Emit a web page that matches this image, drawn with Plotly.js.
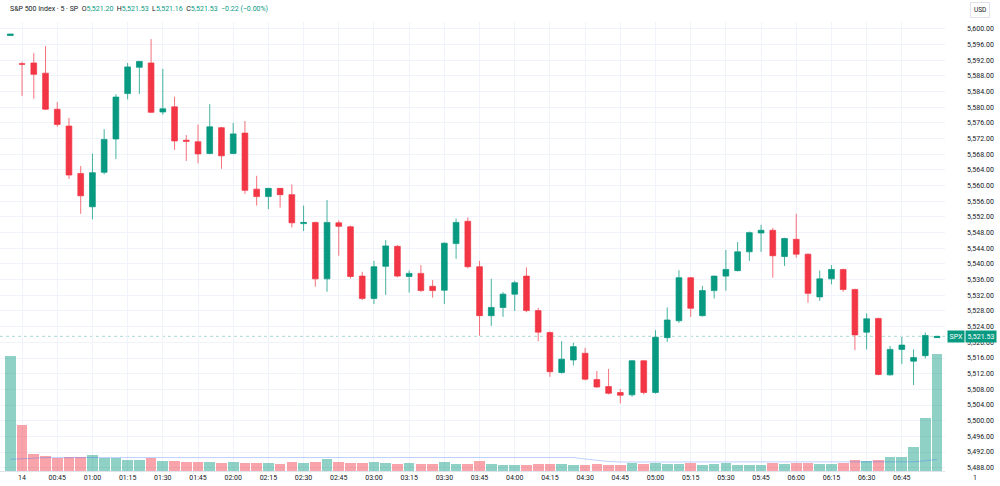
<!DOCTYPE html>
<html>
<head>
<meta charset="utf-8">
<script src="https://cdn.plot.ly/plotly-3.0.1.min.js"></script>
<style>
  html, body { margin: 0; padding: 0; background: #ffffff; }
  #chart { width: 1000px; height: 486px; }
</style>
</head>
<body>
<div id="chart"></div>
<script>
// ---- Data (5-minute bars, S&P 500 Index) ----
const day = "2025-03-14";
const times = ["00:25","00:30","00:35","00:40","00:45","00:50","00:55",
  "01:00","01:05","01:10","01:15","01:20","01:25","01:30","01:35","01:40","01:45","01:50","01:55",
  "02:00","02:05","02:10","02:15","02:20","02:25","02:30","02:35","02:40","02:45","02:50","02:55",
  "03:00","03:05","03:10","03:15","03:20","03:25","03:30","03:35","03:40","03:45","03:50","03:55",
  "04:00","04:05","04:10","04:15","04:20","04:25","04:30","04:35","04:40","04:45","04:50","04:55",
  "05:00","05:05","05:10","05:15","05:20","05:25","05:30","05:35","05:40","05:45","05:50","05:55",
  "06:00","06:05","06:10","06:15","06:20","06:25","06:30","06:35","06:40","06:45","06:50","06:55",
  "07:00"];

const opens = [5598.3,5591.1,5591.3,5588.7,5579.5,5575.2,5563.1,5554.6,5563.4,5571.9,
  5583.5,5590.2,5591.3,5578.8,5580.1,5571.6,5571.2,5568.2,5574.8,5568.2,
  5573.4,5559.1,5557.2,5559.3,5557.7,5550.3,5550.6,5536.2,5550.5,5549.5,
  5536.9,5531.2,5539.4,5544.5,5536.8,5537.6,5534.3,5533.3,5545.2,5550.9,
  5539.3,5526.8,5528.9,5532.3,5536.9,5528.1,5522.5,5512.3,5515.5,5517.2,
  5510.5,5508.7,5507.2,5506.6,5515.3,5507.2,5521.2,5525.5,5536.5,5526.8,
  5533.2,5536.9,5538.3,5543.1,5547.9,5548.6,5541.9,5546.3,5542.5,5531.6,
  5536.2,5538.6,5533.5,5522.6,5526.1,5511.7,5518.2,5515.2,5516.6,5521.20];
const highs = [5598.7,5591.6,5593.8,5595.6,5581.3,5577.3,5565.0,5568.2,5574.4,5583.3,
  5591.3,5591.8,5597.4,5589.8,5582.7,5572.9,5575.6,5580.8,5575.0,5576.0,
  5576.5,5562.5,5559.4,5559.4,5560.3,5554.9,5550.8,5556.3,5551.1,5549.8,
  5538.0,5540.8,5546.1,5544.8,5538.3,5539.7,5535.9,5545.5,5551.6,5551.9,
  5540.8,5536.2,5532.8,5535.7,5539.1,5528.8,5522.8,5520.3,5519.9,5518.6,
  5512.7,5513.2,5508.1,5515.5,5515.4,5523.1,5528.9,5538.4,5536.7,5534.4,
  5537.0,5543.6,5545.6,5548.3,5550.0,5549.2,5546.7,5552.8,5542.7,5538.3,
  5539.7,5538.8,5533.7,5527.4,5526.3,5519.1,5521.4,5518.2,5522.5,5521.53];
const lows = [5598.3,5582.9,5582.2,5579.3,5575.0,5561.7,5552.8,5551.4,5562.9,5566.8,
  5582.0,5583.4,5578.5,5578.1,5569.1,5566.3,5565.7,5568.0,5564.3,5568.0,
  5557.9,5554.9,5554.0,5554.4,5549.3,5548.4,5534.2,5532.9,5542.1,5536.3,
  5530.8,5529.8,5532.1,5536.6,5532.7,5532.9,5531.4,5529.8,5541.3,5538.9,
  5521.7,5524.2,5526.5,5528.0,5527.7,5520.3,5511.2,5512.0,5514.1,5510.3,
  5508.4,5506.7,5504.4,5506.1,5506.7,5506.9,5520.1,5525.0,5526.5,5526.6,
  5531.2,5533.2,5538.1,5540.8,5543.1,5536.5,5539.5,5541.6,5530.1,5530.6,
  5534.8,5532.9,5518.0,5518.2,5511.6,5511.5,5514.5,5509.1,5515.9,5521.16];
const closes = [5598.7,5591.0,5588.4,5579.5,5575.6,5562.7,5557.4,5563.3,5571.8,5582.6,
  5590.3,5591.7,5578.7,5579.6,5571.4,5571.3,5568.1,5575.0,5567.6,5573.2,
  5558.8,5557.2,5559.3,5557.7,5550.5,5550.6,5536.2,5550.6,5549.6,5536.8,
  5531.2,5539.3,5544.6,5536.9,5537.6,5533.2,5533.2,5545.3,5550.6,5539.3,
  5526.8,5528.9,5532.3,5535.2,5528.1,5522.6,5512.5,5515.7,5518.9,5510.6,
  5508.6,5507.0,5506.5,5515.3,5507.2,5521.3,5525.7,5536.5,5528.7,5533.2,
  5536.9,5538.6,5543.1,5548.0,5548.6,5542.1,5546.5,5542.5,5532.5,5536.2,
  5538.6,5533.5,5521.9,5526.0,5511.8,5518.2,5519.3,5516.1,5521.75,5521.53];
const volumes = [115.0,45.7,17.4,15.4,13.0,14.4,13.7,15.7,13.0,12.7,
  11.0,11.0,13.4,10.0,9.7,9.0,8.7,9.0,8.0,8.7,
  7.7,7.7,7.7,7.0,8.7,7.7,9.4,12.0,9.0,8.4,
  8.0,9.4,8.0,7.0,7.7,7.0,7.0,8.7,7.0,7.0,
  10.4,7.5,5.7,6.4,5.7,6.7,7.4,6.7,6.0,6.4,
  7.0,6.4,6.4,8.0,6.7,8.0,6.7,7.4,7.7,6.0,
  6.7,7.7,6.0,6.0,6.0,8.0,7.4,8.4,7.7,7.4,
  7.0,8.0,11.0,10.4,11.0,13.7,13.7,24.0,53.0,117.0];
const volumeMA = [11.7,12.5,13.0,13.4,13.4,13.4,13.4,13.4,13.4,13.4,
  13.4,13.4,13.4,13.4,13.4,13.4,13.4,13.4,13.4,13.4,
  13.5,13.5,13.6,13.6,13.6,13.7,13.7,13.7,13.7,13.7,
  13.8,13.8,13.8,13.8,13.8,13.8,13.8,13.8,13.8,13.8,
  13.9,14.0,14.0,14.0,14.0,14.0,14.0,14.0,13.5,12.0,
  10.5,9.5,9.0,9.0,9.0,9.0,9.0,9.0,9.0,9.0,
  9.0,9.0,9.0,9.0,9.0,9.0,9.0,9.0,9.0,9.0,
  9.0,9.0,9.0,9.0,9.0,9.0,9.0,9.2,10.2,11.6];
const tickTimes = ["00:30","00:45","01:00","01:15","01:30","01:45","02:00","02:15","02:30","02:45",
  "03:00","03:15","03:30","03:45","04:00","04:15","04:30","04:45","05:00","05:15",
  "05:30","05:45","06:00","06:15","06:30","06:45"];
const tickLabels = ["14","00:45","01:00","01:15","01:30","01:45","02:00","02:15","02:30","02:45",
  "03:00","03:15","03:30","03:45","04:00","04:15","04:30","04:45","05:00","05:15",
  "05:30","05:45","06:00","06:15","06:30","06:45"];
const symbolTitle = "S&amp;P 500 Index · 5 · SP";
const currency = "USD";
const symbol = "SPX";

// ---- Styling ----
const UP = "#089981", DOWN = "#F23645";
const x = times.map(t => day + " " + t);
const n = closes.length;
const fmt = v => v.toLocaleString("en-US", {minimumFractionDigits: 2, maximumFractionDigits: 2});
const volColors = closes.map((c, i) => c >= opens[i] ? "rgba(8,153,129,0.45)" : "rgba(242,54,69,0.45)");

const lastUp = closes[n-1] >= opens[n-1];
const lastCol = lastUp ? UP : DOWN;
const chg = closes[n-1] - closes[n-2];
const chgPct = chg / closes[n-2] * 100;
const sgn = v => (v < 0 ? "\u2212" : "+") + Math.abs(v).toFixed(2);
const val = s => `<span style="color:${lastCol}">${s}</span>`;
const header = `${symbolTitle}  O${val(fmt(opens[n-1]))}  H${val(fmt(highs[n-1]))}  L${val(fmt(lows[n-1]))}  C${val(fmt(closes[n-1]))}  ${val(sgn(chg) + " (" + sgn(chgPct) + "%)")}`;

const BAR_MS = 5 * 60 * 1000;

const traces = [
  {
    type: "bar", x: x, y: volumes, yaxis: "y2",
    width: x.map(() => BAR_MS * 0.91),
    marker: {color: volColors, line: {width: 0}},
    hoverinfo: "skip", showlegend: false
  },
  {
    type: "scatter", mode: "lines", x: x, y: volumeMA, yaxis: "y2",
    line: {color: "rgba(41,98,255,0.3)", width: 1},
    hoverinfo: "skip", showlegend: false
  },
  {
    type: "candlestick", x: x, open: opens, high: highs, low: lows, close: closes,
    increasing: {line: {color: "rgba(8,153,129,0.75)", width: 1}, fillcolor: UP},
    decreasing: {line: {color: "rgba(242,54,69,0.7)", width: 1}, fillcolor: DOWN},
    whiskerwidth: 0, showlegend: false
  }
];

const plotTop = 22, plotBottom = 15, plotH = 486 - plotTop - plotBottom;
const pxToPaperY = py => (486 - plotBottom - py) / plotH;
const plotW = 945;
const pxToPaperX = px => px / plotW;

const layout = {
  width: 1000, height: 486,
  margin: {l: 0, r: 1000 - plotW, t: plotTop, b: plotBottom, pad: 0},
  paper_bgcolor: "#ffffff", plot_bgcolor: "#ffffff",
  font: {family: "Roboto, 'Noto Sans', sans-serif", size: 7, color: "#131722"},
  showlegend: false,
  bargap: 0,
  xaxis: {
    type: "date",
    range: [day + " 00:20:36", day + " 07:03:24"],
    tickvals: tickTimes.map(t => day + " " + t),
    ticktext: tickLabels,
    tickfont: {size: 7, color: "#131722"},
    ticks: "", showgrid: true, gridcolor: "#f0f3fa", gridwidth: 1,
    showline: true, linecolor: "#e0e3eb", linewidth: 1,
    zeroline: false, fixedrange: true,
    rangeslider: {visible: false},
    automargin: false, ticklabelstandoff: 0
  },
  yaxis: {
    side: "right",
    range: [5487.16, 5601.76],
    tick0: 5488, dtick: 4, tickformat: ",.2f",
    tickfont: {size: 7, color: "#131722"},
    ticks: "", showgrid: true, gridcolor: "#f0f3fa", gridwidth: 1,
    showline: false, zeroline: false, fixedrange: true,
    automargin: false, ticklabelstandoff: 21
  },
  yaxis2: {
    overlaying: "y", side: "right",
    range: [0, plotH], visible: false, fixedrange: true, showgrid: false
  },
  shapes: [
    {type: "line", xref: "paper", x0: 0, x1: 1, yref: "y", y0: closes[n-1], y1: closes[n-1],
     line: {color: "rgba(8,153,129,0.35)", width: 1, dash: "dot"}, layer: "below"}
  ],
  annotations: [
    {xref: "paper", yref: "paper", x: pxToPaperX(8), y: pxToPaperY(9), xanchor: "left", yanchor: "middle",
     text: header, showarrow: false, font: {size: 7, color: "#131722"}},
    {xref: "paper", yref: "paper", x: pxToPaperX(980), y: pxToPaperY(10), xanchor: "center", yanchor: "middle",
     text: currency, showarrow: false, font: {size: 6.5, color: "#131722"},
     bordercolor: "#e0e3eb", borderwidth: 1, borderpad: 3, bgcolor: "#ffffff"},
    {xref: "paper", yref: "y", x: pxToPaperX(955.5), y: closes[n-1], xanchor: "center", yanchor: "middle",
     text: symbol, showarrow: false, font: {size: 7, color: "#ffffff"}, bgcolor: UP, borderpad: 1.5},
    {xref: "paper", yref: "y", x: pxToPaperX(981), y: closes[n-1], xanchor: "center", yanchor: "middle",
     text: fmt(closes[n-1]), showarrow: false, font: {size: 7, color: "#ffffff"}, bgcolor: UP, borderpad: 1.5},
    {xref: "paper", yref: "paper", x: pxToPaperX(975), y: pxToPaperY(478), xanchor: "center", yanchor: "middle",
     text: "1", showarrow: false, font: {size: 7, color: "#131722"}}
  ]
};

Plotly.newPlot("chart", traces, layout, {displayModeBar: false, staticPlot: true});
</script>
</body>
</html>
